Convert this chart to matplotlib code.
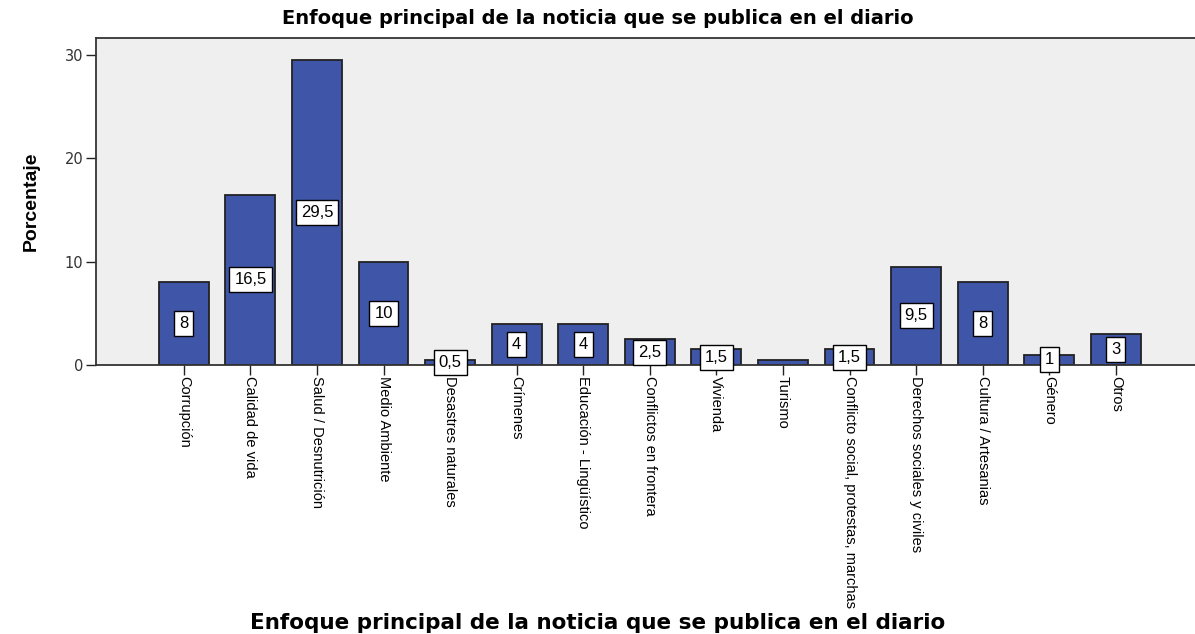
import matplotlib
matplotlib.use("Agg")
import matplotlib.pyplot as plt
from matplotlib import font_manager

categories = [
    "Corrupción", "Calidad de vida", "Salud / Desnutrición", "Medio Ambiente",
    "Desastres naturales", "Crímenes", "Educación - Lingüístico",
    "Conflictos en frontera", "Vivienda", "Turismo",
    "Conflicto social, protestas, marchas", "Derechos sociales y civiles",
    "Cultura / Artesanias", "Género", "Otros",
]
percent = [8, 16.5, 29.5, 10, 0.5, 4, 4, 2.5, 1.5, 0.5, 1.5, 9.5, 8, 1, 3]
value_labels = ["8", "16,5", "29,5", "10", "0,5", "4", "4", "2,5", "1,5", "",
                "1,5", "9,5", "8", "1", "3"]
yticks = [0, 10, 20, 30]

names = {f.name for f in font_manager.fontManager.ttflist}
narrow = "Liberation Sans Narrow" if "Liberation Sans Narrow" in names else "Liberation Sans"

fig = plt.figure(figsize=(11.95, 6.34), dpi=100)
ax = fig.add_axes([0.0803, 0.4243, 0.9197, 0.5157])
ax.set_facecolor("#efefef")

x = list(range(len(categories)))
ax.bar(x, percent, width=0.75, color="#3f56a8", edgecolor="#222222", linewidth=1.3, zorder=2)

for xi, v, lab in zip(x, percent, value_labels):
    if lab:
        ax.text(xi, v / 2, lab, ha="center", va="center", fontsize=12,
                family="Liberation Sans", color="black", zorder=3,
                bbox=dict(boxstyle="square,pad=0.3", fc="white", ec="black", lw=1))

ax.set_xlim(-1.32, 15.19)
ax.set_ylim(0, 31.65)
ax.set_yticks(yticks)
ax.set_yticklabels([str(t) for t in yticks], fontsize=10.5, color="#333333")
ax.set_xticks(x)
ax.set_xticklabels(categories, rotation=270, fontsize=10.5, family=narrow,
                   ha="center", va="top")
ax.tick_params(axis="x", length=7, width=1, color="#222222", pad=1)
ax.tick_params(axis="y", length=7, width=1, color="#222222", pad=2)

for s in ["left", "top", "bottom"]:
    ax.spines[s].set_color("#333333")
    ax.spines[s].set_linewidth(1.3)
ax.spines["right"].set_visible(False)

ax.set_ylabel("Porcentaje", fontsize=14, fontweight="bold", family=narrow, labelpad=18)
fig.text(0.5, 0.971, "Enfoque principal de la noticia que se publica en el diario",
         ha="center", va="center", fontsize=14, fontweight="bold", family="DejaVu Sans")
fig.text(0.5, 0.018, "Enfoque principal de la noticia que se publica en el diario",
         ha="center", va="center", fontsize=15.5, fontweight="bold", family="DejaVu Sans")

fig.savefig("out.png", dpi=100)
